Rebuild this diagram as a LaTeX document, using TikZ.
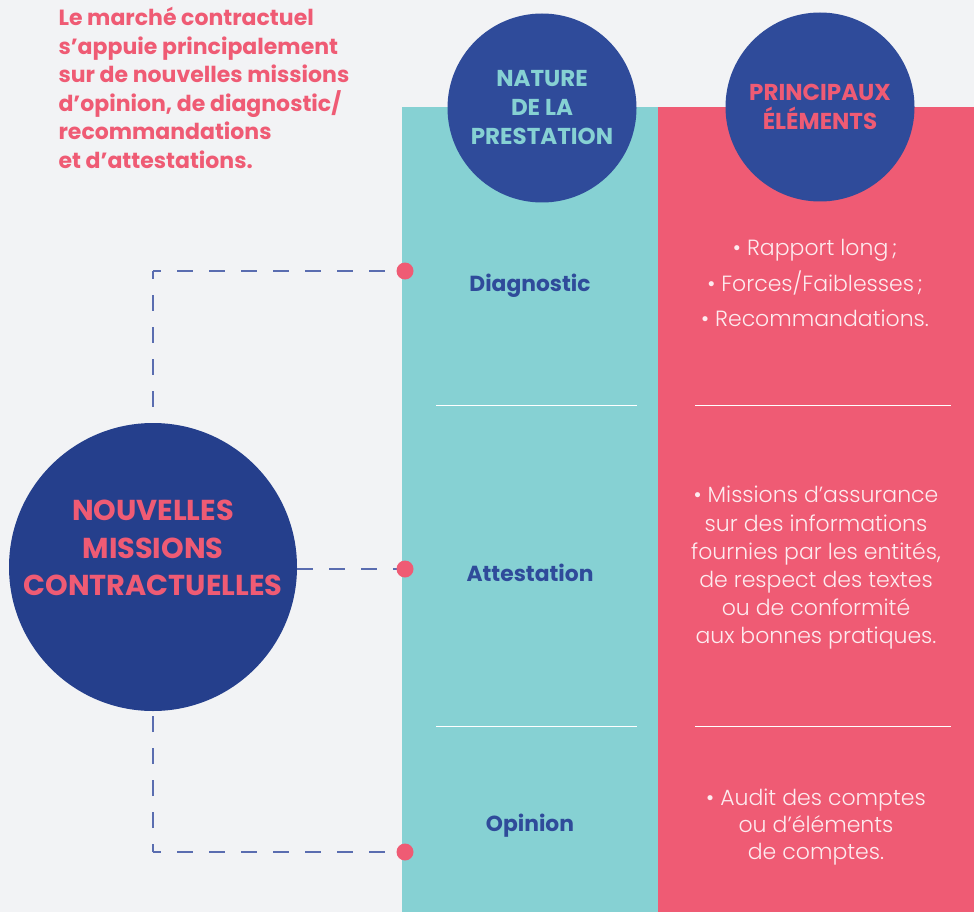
\documentclass[tikz,border=0pt]{standalone}
\usepackage{fontspec}
\setmainfont{Poppins}
\newfontfamily\lightfont{Poppins Light}
\definecolor{bg}{HTML}{F2F3F5}
\definecolor{tealc}{HTML}{86D1D3}
\definecolor{pinkc}{HTML}{EF5B74}
\definecolor{navy}{HTML}{2F4B9A}
\definecolor{navyd}{HTML}{253F8C}
\definecolor{dashc}{HTML}{5A6DB0}
\definecolor{softw}{HTML}{FDEBEF}
\pgfdeclarelayer{bglayer}
\pgfdeclarelayer{connlayer}
\pgfsetlayers{bglayer,connlayer,main}
\begin{document}
\begin{tikzpicture}[x=1pt,y=-1pt,
  headcirc/.style={circle,fill=navy,minimum size=189pt,inner sep=0pt,align=center,font=\bfseries\fontsize{23}{29}\selectfont},
  dot/.style={circle,fill=pinkc,minimum size=17pt,inner sep=0pt},
  conn/.style={draw=dashc,line width=1.4pt,dash pattern=on 16pt off 16pt,dash phase=8pt},
  sep/.style={draw=white,line width=1pt},
  kind/.style={text=navy,font=\bfseries\fontsize{21.8}{24}\selectfont},
  detail/.style={text=softw,align=center,font=\lightfont\fontsize{22}{28.2}\selectfont}]
\useasboundingbox (0,0) rectangle (974,912);
\begin{pgfonlayer}{bglayer}
\fill[bg] (0,0) rectangle (974,912);
\fill[tealc] (402,107) rectangle (658,912);
\fill[pinkc] (658,107) rectangle (974,912);
\draw[sep] (436,405) -- (637,405);
\draw[sep] (436,726) -- (637,726);
\draw[sep] (695,405) -- (951,405);
\draw[sep] (695,726) -- (951,726);
\end{pgfonlayer}
% intro text
\node[anchor=west,text=pinkc,align=left,font=\bfseries\fontsize{22}{28.6}\selectfont] (intro) at (55,88)
 {Le marché contractuel\\s’appuie principalement\\sur de nouvelles missions\\d’opinion, de diagnostic/\\recommandations\\et d’attestations.};
% header circles
\node[headcirc,text=tealc] (nat) at (542,108) {NATURE\\DE LA\\PRESTATION};
\node[headcirc,text=pinkc] (pri) at (820,107) {PRINCIPAUX\\ÉLÉMENTS};
% big circle
\node[circle,fill=navyd,minimum size=288pt,inner sep=0pt] (big) at (153,567) {};
\node[text=pinkc,align=center,font=\bfseries\fontsize{28.8}{37.5}\selectfont] (bigtxt) at (153,548) {NOUVELLES\\MISSIONS\\CONTRACTUELLES};
% dots
\node[dot] (d1) at (405,271) {};
\node[dot] (d2) at (405,569) {};
\node[dot] (d3) at (405,852) {};
\coordinate (c1) at (153,271);
\coordinate (c3) at (153,852);
% connectors
\begin{pgfonlayer}{connlayer}
\draw[conn] (c1) -- (d1.center);
\draw[conn] (c1) -- (big.center);
\draw[conn] (c3) -- (d3.center);
\draw[conn] (c3) -- (big.center);
\draw[conn,dash phase=0pt] (d2 -| big.east) -- (d2.center);
\end{pgfonlayer}
% labels
\node[kind] (diag) at (530,286) {Diagnostic};
\node[kind] (att) at (530,573) {Attestation};
\node[kind] (opi) at (530,826) {Opinion};
% details
\node[detail,font=\lightfont\fontsize{22}{35.5}\selectfont] (t1) at (815,283) {• Rapport long\,;\\• Forces/Faiblesses\,;\\• Recommandations.};
\node[detail] (t2) at (816,568) {• Missions d’assurance\\sur des informations\\fournies par les entités,\\de respect des textes\\ou de conformité\\aux bonnes pratiques.};
\node[detail,font=\lightfont\fontsize{22}{27}\selectfont] (t3) at (816,827) {• Audit des comptes\\ou d’éléments\\de comptes.};
\end{tikzpicture}
\end{document}
